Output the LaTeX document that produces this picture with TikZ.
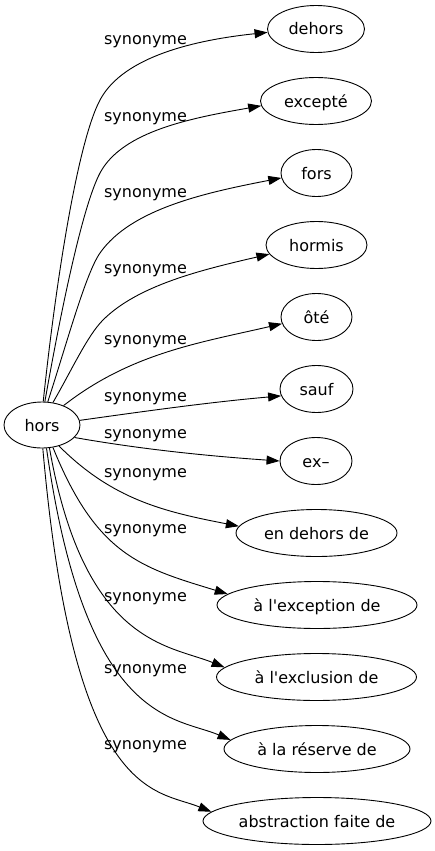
\documentclass[tikz,border=0pt]{standalone}
\usepackage{fontspec}
\setmainfont{DejaVu Sans}[Ligatures=TeXOff]
\usetikzlibrary{arrows.meta, shapes.geometric}
\begin{document}
\begin{tikzpicture}[x=1pt, y=1pt,
  every node/.style={font=\fontsize{16}{19}\selectfont, text=black},
  term/.style={ellipse, draw, line width=0.9pt, minimum height=47pt, inner sep=0pt,
    text height=12pt, text depth=0pt},
  lbl/.style={anchor=base, inner sep=0pt},
  syn/.style={draw, line width=0.9pt, -{Triangle[length=13pt, width=9pt]}},
]
\useasboundingbox (0,0) rectangle (435,-851);

% central node
\node[term, minimum width=76pt, minimum height=46pt] (hors) at (42,-425) {hors};

% targets
\node[term, minimum width=97pt]  (n1)  at (316,-29)    {dehors};
\node[term, minimum width=111pt] (n2)  at (316,-101)   {excepté};
\node[term, minimum width=71pt]  (n3)  at (316.5,-173) {fors};
\node[term, minimum width=101pt] (n4)  at (316.5,-245) {hormis};
\node[term, minimum width=71pt]  (n5)  at (316.5,-317) {ôté};
\node[term, minimum width=73pt]  (n6)  at (316.5,-389) {sauf};
\node[term, minimum width=72pt]  (n7)  at (316,-461)   {ex–};
\node[term, minimum width=161pt] (n8)  at (316.5,-533) {en dehors de};
\node[term, minimum width=200pt] (n9)  at (317,-605)   {à l'exception de};
\node[term, minimum width=200pt] (n10) at (316.5,-677) {à l'exclusion de};
\node[term, minimum width=186pt] (n11) at (317,-749)   {à la réserve de};
\node[term, minimum width=228pt] (n12) at (317,-821)   {abstraction faite de};

% edge labels
\node[lbl] (l1)  at (145.5,-44.5)  {synonyme};
\node[lbl] (l2)  at (145.5,-121.5) {synonyme};
\node[lbl] (l3)  at (145.5,-197.5) {synonyme};
\node[lbl] (l4)  at (145.5,-273.5) {synonyme};
\node[lbl] (l5)  at (145.5,-344.5) {synonyme};
\node[lbl] (l6)  at (145.5,-401.5) {synonyme};
\node[lbl] (l7)  at (145.5,-438.5) {synonyme};
\node[lbl] (l8)  at (145.5,-477.5) {synonyme};
\node[lbl] (l9)  at (145.5,-533.5) {synonyme};
\node[lbl] (l10) at (145.5,-601.5) {synonyme};
\node[lbl] (l11) at (145.5,-673.5) {synonyme};
\node[lbl] (l12) at (145.5,-749.5) {synonyme};

% bends
\coordinate (k1) at (100,-100);
\coordinate (k2) at (100,-173);
\coordinate (k3) at (100,-253);
\coordinate (k4) at (103,-320);

% connectors
\draw[syn] (hors.87) to[out=84,in=242,out distance=120pt,in distance=48pt] (k1)
  to[out=62,in=186,out distance=50pt,in distance=71pt] (n1.184);
\draw[syn] (hors.83) to[out=80,in=242,out distance=92pt,in distance=37pt] (k2)
  to[out=62,in=190,out distance=48pt,in distance=69pt] (n2.185);
\draw[syn] (hors.76) to[out=72,in=235,out distance=62pt,in distance=25pt] (k3)
  to[out=55,in=191,out distance=54pt,in distance=77pt] (n3.188);
\draw[syn] (hors.64) to[out=60,in=225,out distance=38pt,in distance=22pt] (k4)
  to[out=45,in=193,out distance=49pt,in distance=70pt] (n4.191);
\draw[syn] (hors.42) to[out=38,in=193,out distance=85pt,in distance=85pt] (n5.191);
\draw[syn] (hors.7.5) to[out=8,in=185,out distance=70pt,in distance=70pt] (n6.191);
\draw[syn] (hors.-21) to[out=-10,in=176,out distance=70pt,in distance=70pt] (n7.180);
\draw[syn] (hors.-51) to[out=-45,in=169,out distance=76pt,in distance=76pt] (n8.175);
\draw[syn] (hors.-64) to[out=-68,in=163,out distance=117pt,in distance=90pt] (n9.173);
\draw[syn] (hors.-72) to[out=-80,in=158,out distance=200pt,in distance=60pt] (n10.174);
\draw[syn] (hors.-79) to[out=-82,in=157,out distance=280pt,in distance=60pt] (n11.174);
\draw[syn] (hors.-88) to[out=-85,in=158,out distance=355pt,in distance=60pt] (n12.175);
\end{tikzpicture}
\end{document}
